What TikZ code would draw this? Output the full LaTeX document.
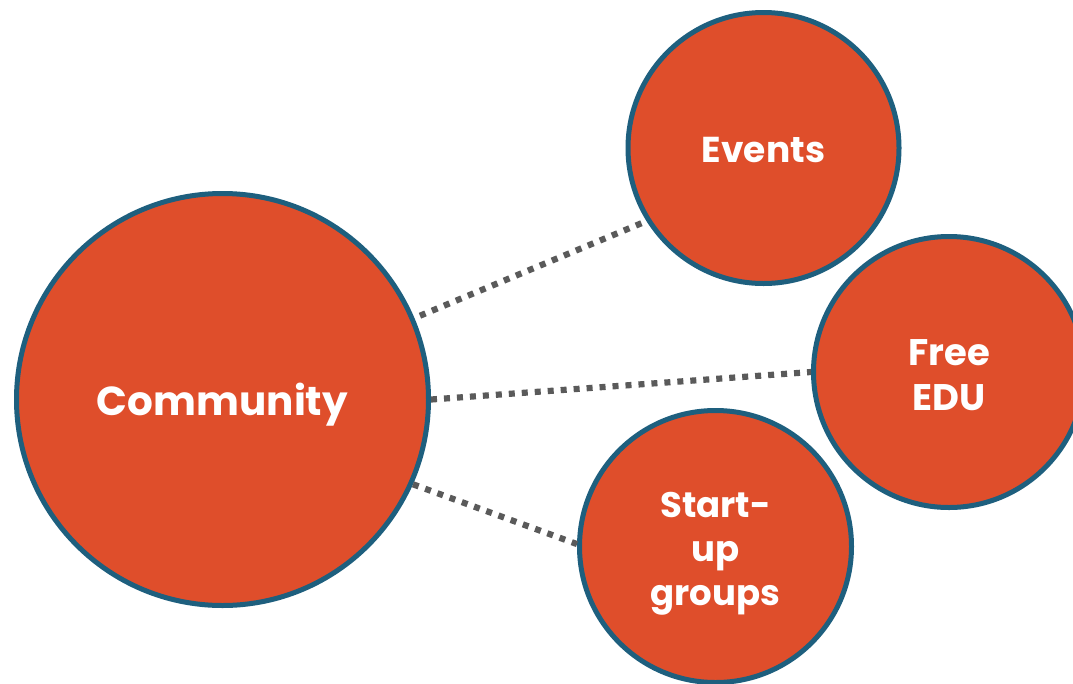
\documentclass[tikz,border=0pt]{standalone}
\usepackage{fontspec}
\setmainfont{Poppins}[UprightFont=* Bold]
\definecolor{bubblefill}{RGB}{223,78,43}
\definecolor{bubbleedge}{RGB}{30,95,126}
\definecolor{dotgray}{RGB}{90,90,90}
\begin{document}
\begin{tikzpicture}[x=1pt,y=-1pt,
  bubble/.style={circle,draw=bubbleedge,fill=bubblefill,line width=5pt,inner sep=0pt},
  caption/.style={text=white,align=center,inner sep=0pt},
  link/.style={draw=dotgray,line width=6.2pt,dash pattern=on 6pt off 7pt}]
\clip (0,0) rectangle (1073,683);
\fill[white] (0,0) rectangle (1073,683);
\node[bubble,minimum size=412pt] (community) at (222.5,399.5) {};
\node[bubble,minimum size=271pt] (events) at (763.5,148) {};
\node[bubble,minimum size=271pt] (freeedu) at (949,372) {};
\node[bubble,minimum size=272pt] (startup) at (715.5,546.5) {};
\node[caption,font=\fontsize{40.5}{46}\selectfont] (communitytext) at ([yshift=-5pt]community.center) {Community};
\node[caption,font=\fontsize{36}{44}\selectfont] (eventstext) at ([yshift=-2pt]events.center) {Events};
\node[caption,font=\fontsize{37}{45}\selectfont] (freeedutext) at ([yshift=-3pt]freeedu.center) {Free\\EDU};
\node[caption,font=\fontsize{35.5}{44}\selectfont] (startuptext) at ([yshift=-7pt]startup.center) {Start-\\up\\groups};
\draw[link,shorten <=6pt] (community.23.8) -- (events.212.8);
\draw[link] (community.0) -- (freeedu.180);
\draw[link] (community.-24.4) -- (startup.179);
\end{tikzpicture}
\end{document}
